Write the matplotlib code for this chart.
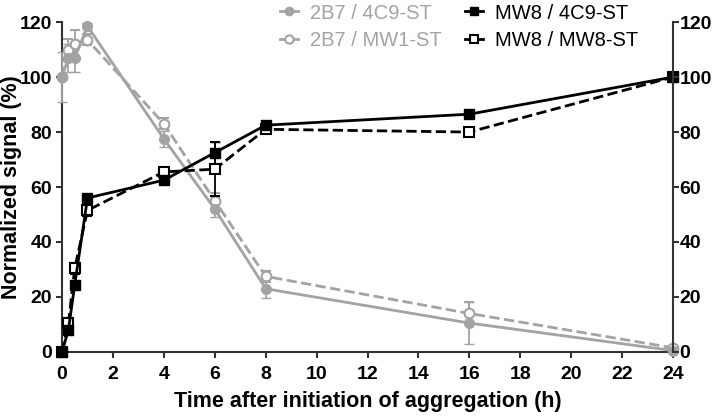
import numpy as np
import matplotlib
matplotlib.use("Agg")
import matplotlib.pyplot as plt
from matplotlib.lines import Line2D

plt.rcParams['font.family'] = ['Liberation Sans', 'DejaVu Sans']

t = [0, 0.25, 0.5, 1, 4, 6, 8, 16, 24]

b_4c9 = [100, 107, 107, 118.5, 77.5, 52, 23, 10.5, 0.5]
b_4c9_err = [9, 5, 5, 1, 3, 3, 3.5, 7.5, 0.5]
b_mw1 = [100, 110, 112, 113.5, 83, 55, 27.5, 14, 1.5]
b_mw1_err = [0, 4, 5, 2, 2, 3, 2, 4, 0.5]
m_4c9 = [0, 8, 24.5, 56, 62.5, 72.5, 82.5, 86.5, 100]
m_4c9_err = [0, 1, 1, 1, 1, 4, 1, 1, 0]
m_mw8 = [0, 10.5, 30.5, 51.5, 65.5, 66.5, 81, 80, 100]
m_mw8_err = [0, 2, 2, 2, 1.5, 9.8, 1, 1, 0]

grey = '#a3a3a3'
dark = '#333333'

fig = plt.figure(figsize=(7.13, 4.17), dpi=100)
ax = fig.add_axes([0.087, 0.156, 0.857, 0.791])

ax.errorbar(t, b_mw1, yerr=b_mw1_err, color=grey, marker='o', ms=7, lw=2, ls='--',
            mfc='white', mew=1.5, capsize=3.5, elinewidth=1.3, clip_on=False, zorder=3)
ax.errorbar(t, b_4c9, yerr=b_4c9_err, color=grey, marker='o', ms=7, lw=2,
            capsize=3.5, elinewidth=1.3, clip_on=False, zorder=3)
ax.errorbar(t, m_mw8, yerr=m_mw8_err, color='black', marker='s', ms=7, lw=2, ls='--',
            mfc='white', mew=1.5, capsize=3.5, elinewidth=1.3, clip_on=False, zorder=4)
ax.errorbar(t, m_4c9, yerr=m_4c9_err, color='black', marker='s', ms=7, lw=2,
            capsize=3.5, elinewidth=1.3, clip_on=False, zorder=4)

ax.set_xlim(0, 24)
ax.set_ylim(0, 120)
ax.set_xticks(np.arange(0, 25, 2))
ax.set_yticks(np.arange(0, 121, 20))
for s in ['top', 'right']:
    ax.spines[s].set_visible(False)
for s in ['left', 'bottom']:
    ax.spines[s].set_linewidth(1.5)
    ax.spines[s].set_color(dark)
ax.tick_params(width=1.5, length=4, labelsize=14, color=dark, pad=3)
ax.tick_params(axis='x', pad=6)
for lab in ax.get_xticklabels() + ax.get_yticklabels():
    lab.set_fontweight('bold')

ax2 = ax.twinx()
ax2.set_ylim(0, 120)
ax2.set_yticks(np.arange(0, 121, 20))
for s in ['top', 'left', 'bottom']:
    ax2.spines[s].set_visible(False)
ax2.spines['right'].set_linewidth(1.5)
ax2.spines['right'].set_color(dark)
ax2.tick_params(width=1.5, length=4, labelsize=14, color=dark, pad=0.5)
for lab in ax2.get_yticklabels():
    lab.set_fontweight('bold')

ax.set_xlabel('Time after initiation of aggregation (h)', fontsize=15.5, fontweight='bold',
              labelpad=6)
ax.set_ylabel('Normalized signal (%)', fontsize=15.5, fontweight='bold', va='center')
ax.yaxis.set_label_coords(-0.082, 0.5)

handles = [
    Line2D([], [], color=grey, marker='o', ms=6, lw=2),
    Line2D([], [], color=grey, marker='o', ms=6, lw=2, mfc='white', mew=1.5),
    Line2D([], [], color='black', marker='s', ms=6, lw=2),
    Line2D([], [], color='black', marker='s', ms=6, lw=2, mfc='white', mew=1.5),
]
labels = ['2B7 / 4C9-ST', '2B7 / MW1-ST', 'MW8 / 4C9-ST', 'MW8 / MW8-ST']
leg = fig.legend(handles, labels, loc='upper left', bbox_to_anchor=(0.367, 1.035), ncol=2,
                 frameon=False, fontsize=14.5, handlelength=0.9, columnspacing=1.15,
                 labelspacing=0.4, handletextpad=0.6)
for txt, c in zip(leg.get_texts(), [grey, grey, 'black', 'black']):
    txt.set_color(c)

fig.savefig('out.png', dpi=100)
